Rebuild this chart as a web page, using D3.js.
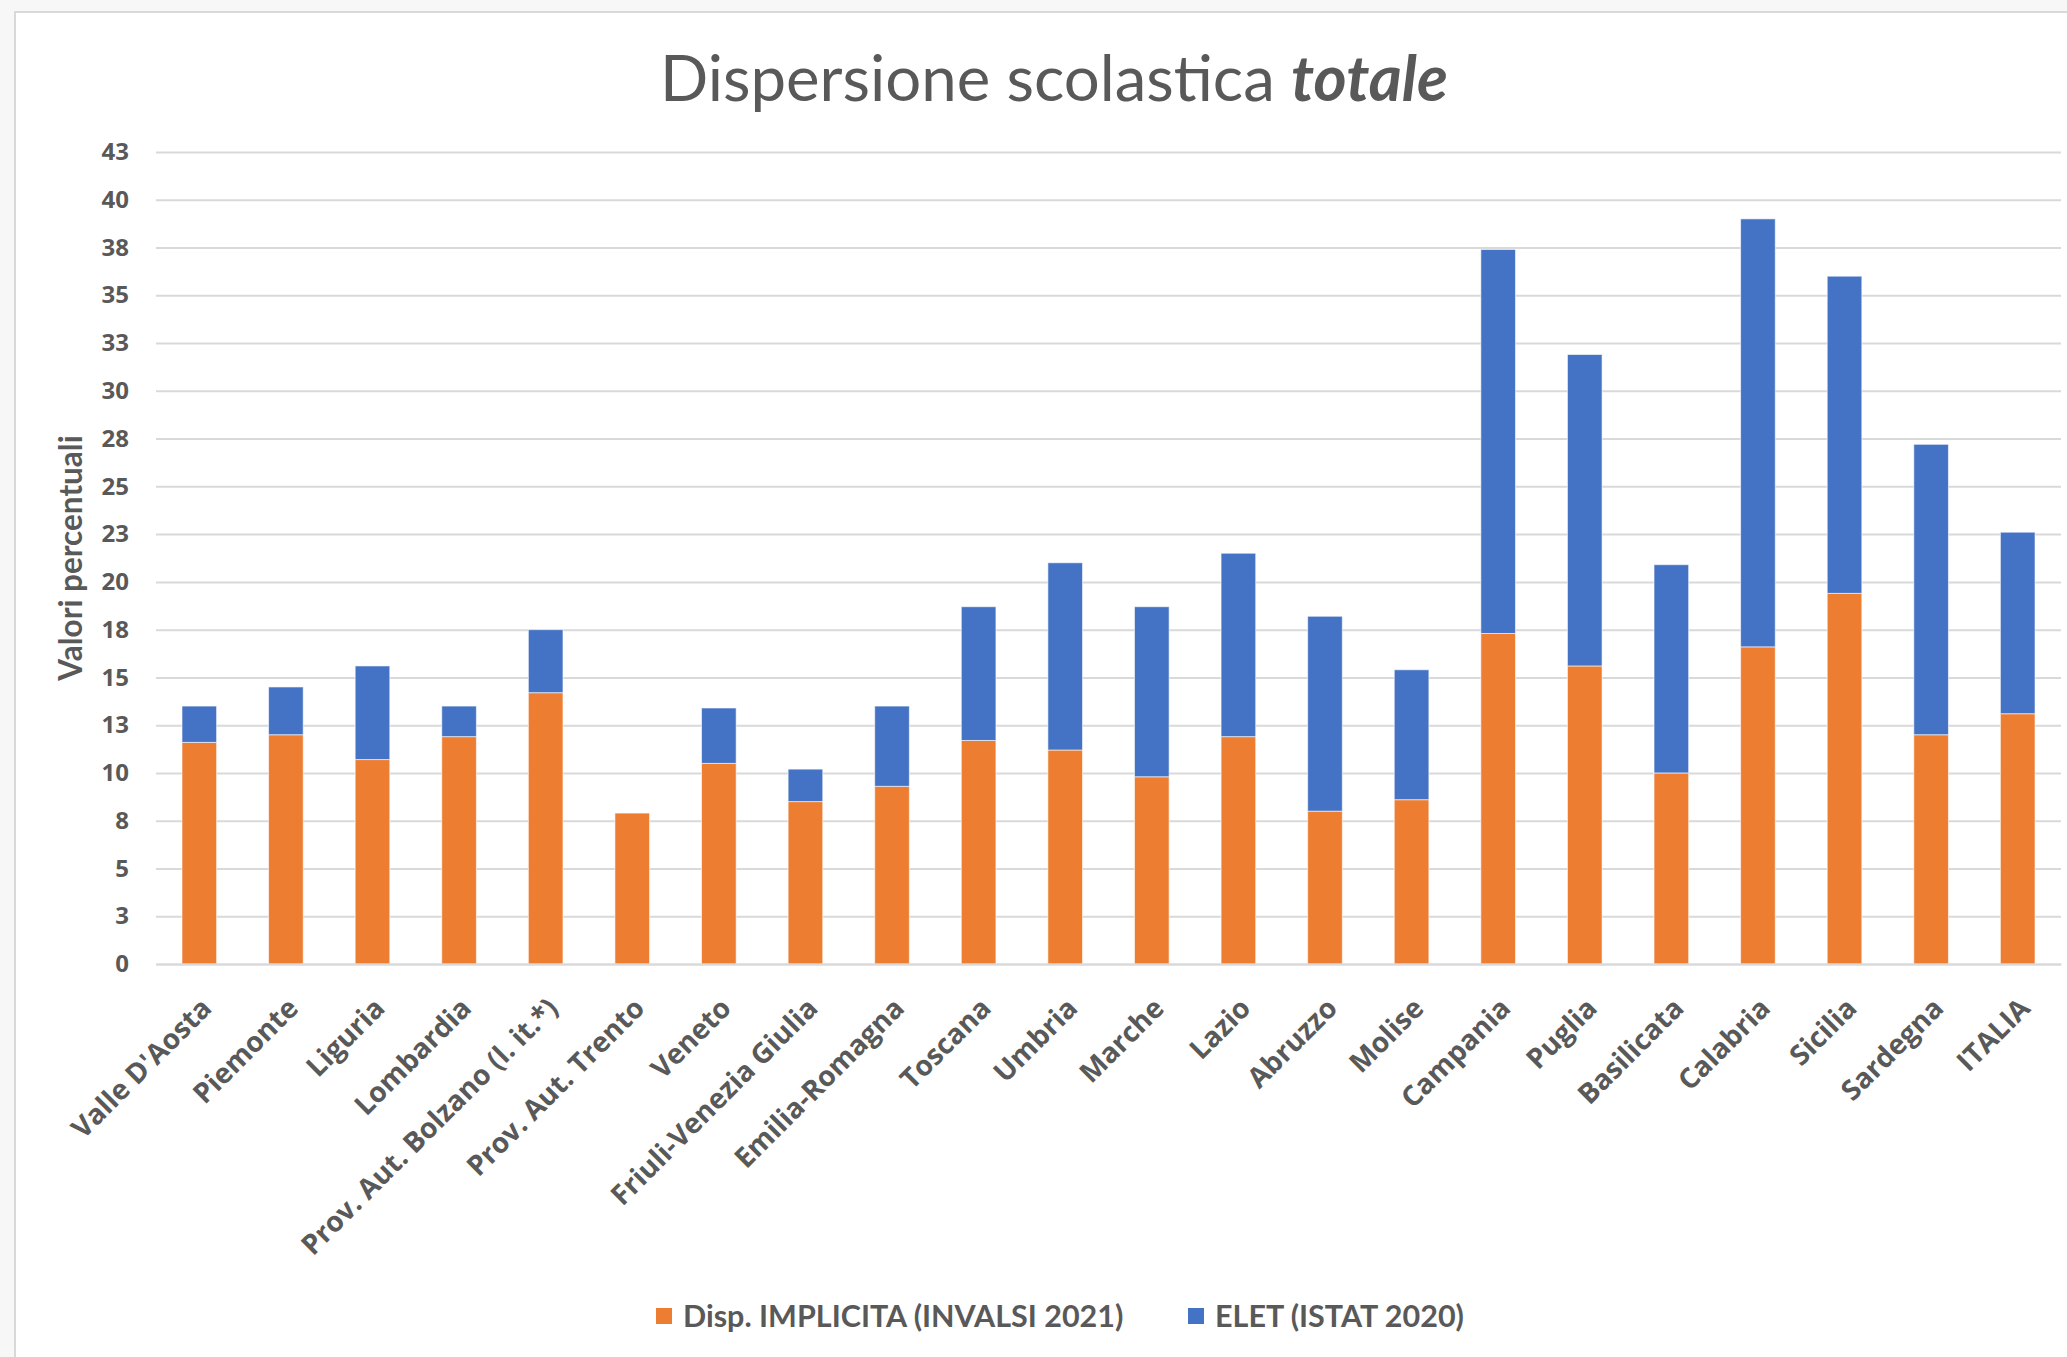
<!DOCTYPE html>
<html>
<head>
<meta charset="utf-8">
<script src="https://cdn.jsdelivr.net/npm/d3@7"></script>
<style>
  body{margin:0;background:#f7f7f7;}
  svg{display:block;}
</style>
</head>
<body>
<svg></svg>
<script>
var regioni = ["Valle D'Aosta","Piemonte","Liguria","Lombardia","Prov. Aut. Bolzano (l. it.*)",
  "Prov. Aut. Trento","Veneto","Friuli-Venezia Giulia","Emilia-Romagna","Toscana","Umbria",
  "Marche","Lazio","Abruzzo","Molise","Campania","Puglia","Basilicata","Calabria","Sicilia",
  "Sardegna","ITALIA"];

// bottom (orange) segment
var implicita = [11.6,12.0,10.7,11.9,14.2,7.9,10.5,8.5,9.3,11.7,11.2,9.8,11.9,8.0,8.6,17.3,15.6,10.0,16.6,19.4,12.0,13.1];
// top (blue) segment
var elet = [1.9,2.5,4.9,1.6,3.3,0,2.9,1.7,4.2,7.0,9.8,8.9,9.6,10.2,6.8,20.1,16.3,10.9,22.4,16.6,15.2,9.5];

var serieNomi = ["Disp. IMPLICITA (INVALSI 2021)","ELET (ISTAT 2020)"];
var serieColori = ["#ED7D31","#4472C4"];

var tickValori = [0,2.5,5,7.5,10,12.5,15,17.5,20,22.5,25,27.5,30,32.5,35,37.5,40,42.5];
var tickEtichette = ["0","3","5","8","10","13","15","18","20","23","25","28","30","33","35","38","40","43"];

start();

function start(){
  var width = 2067;
  var height = 1357;
  var grigio = "#595959";

  var svg = d3.select("svg")
              .attr("width",width)
              .attr("height",height);

  // chart box
  svg.append("rect")
     .attr("x",15).attr("y",12)
     .attr("width",width).attr("height",height)
     .attr("fill","white")
     .attr("stroke","#d9d9d9")
     .attr("stroke-width",2);

  var x = d3.scaleBand()
            .domain(regioni)
            .range([156,2061])
            .paddingInner(0.6)
            .paddingOuter(0.3);

  var y = d3.scaleLinear()
            .domain([0,42.5])
            .range([964,152]);

  // gridlines + y labels
  var yAxis = d3.axisLeft(y)
                .tickValues(tickValori)
                .tickSize(-(2061-156))
                .tickPadding(27)
                .tickFormat(function(d,i){ return tickEtichette[i]; });

  var gy = svg.append("g")
              .attr("transform","translate(156,0)")
              .call(yAxis);
  gy.select(".domain").remove();
  gy.selectAll(".tick line")
    .attr("stroke","#d9d9d9")
    .attr("stroke-width",2);
  gy.selectAll(".tick text")
    .attr("fill",grigio)
    .attr("font-family","'Open Sans', sans-serif")
    .attr("font-weight","bold")
    .attr("font-size","24px");

  // stacked bars
  var righe = regioni.map(function(r,i){
    return {regione:r, a:implicita[i], b:elet[i]};
  });
  var stack = d3.stack().keys(["a","b"]);
  var strati = stack(righe);

  svg.append("g")
     .selectAll("g")
     .data(strati)
     .enter()
     .append("g")
     .attr("fill",function(d,i){ return serieColori[i]; })
     .selectAll("rect")
     .data(function(d){ return d; })
     .enter()
     .append("rect")
     .attr("x",function(d){ return x(d.data.regione); })
     .attr("y",function(d){ return y(d[1]); })
     .attr("width",x.bandwidth())
     .attr("height",function(d){ return y(d[0]) - y(d[1]); })
     .attr("stroke","white")
     .attr("stroke-opacity",0.6)
     .attr("stroke-width",1);

  // x labels
  var xAxis = d3.axisBottom(x).tickSize(0).tickPadding(0);
  var gx = svg.append("g")
              .attr("transform","translate(0,964)")
              .call(xAxis);
  gx.select(".domain")
    .attr("stroke","#d9d9d9")
    .attr("stroke-width",2);
  gx.selectAll(".tick text")
    .attr("fill",grigio)
    .attr("font-family","'Open Sans', sans-serif")
    .attr("font-weight","bold")
    .attr("font-size","28px")
    .attr("text-anchor","end")
    .attr("dy",0)
    .attr("y",0)
    .attr("transform","translate(14,46) rotate(-45)");

  // title
  var titolo = svg.append("text")
                  .attr("x",1054)
                  .attr("y",101)
                  .attr("text-anchor","middle")
                  .attr("fill",grigio)
                  .attr("font-family","Lato, sans-serif")
                  .attr("font-size","63.5px");
  titolo.append("tspan").text("Dispersione scolastica ");
  titolo.append("tspan")
        .attr("font-weight","bold")
        .attr("font-style","italic")
        .text("totale");

  // y title
  svg.append("text")
     .attr("transform","translate(82,558) rotate(-90)")
     .attr("text-anchor","middle")
     .attr("fill",grigio)
     .attr("font-family","Lato, sans-serif")
     .attr("font-weight","bold")
     .attr("font-size","31.5px")
     .text("Valori percentuali");

  // legend
  var legPos = [656,1188];
  var leg = svg.selectAll("g.leg")
               .data(serieNomi)
               .enter()
               .append("g")
               .attr("class","leg")
               .attr("transform",function(d,i){ return "translate("+legPos[i]+",1308)"; });
  leg.append("rect")
     .attr("width",16)
     .attr("height",16)
     .attr("fill",function(d,i){ return serieColori[i]; });
  leg.append("text")
     .attr("x",27)
     .attr("y",19)
     .attr("fill",grigio)
     .attr("font-family","Lato, sans-serif")
     .attr("font-weight","bold")
     .attr("font-size","30.5px")
     .text(function(d){ return d; });
}
</script>
</body>
</html>
